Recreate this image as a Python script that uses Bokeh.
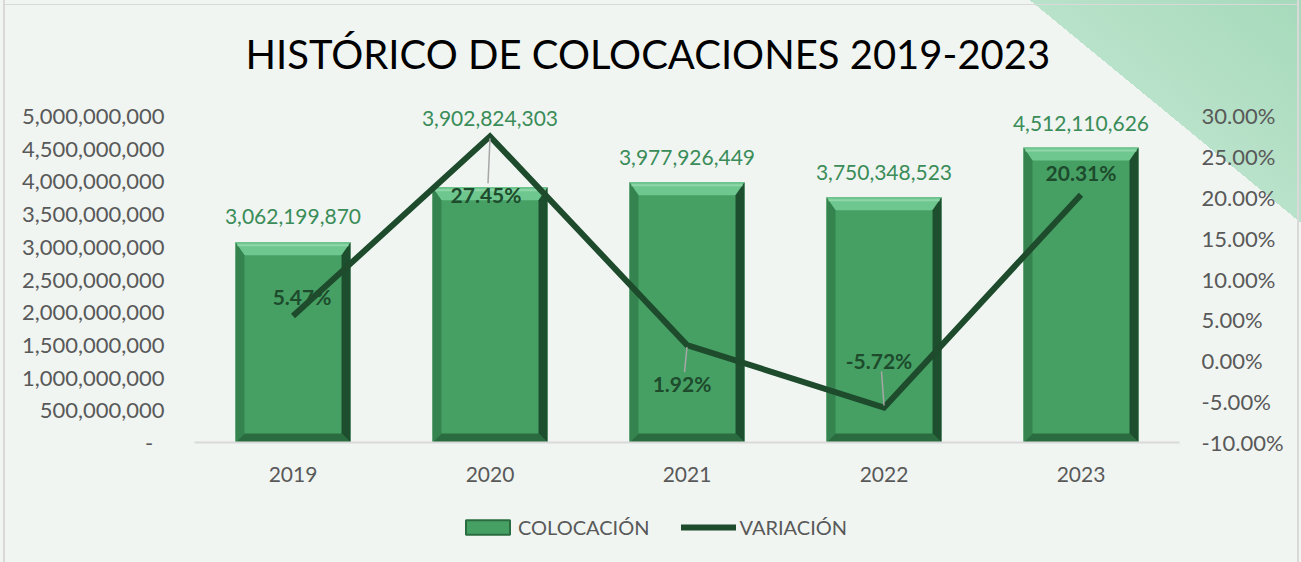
from bokeh.plotting import figure
from bokeh.layouts import column
from bokeh.models import (Range1d, LinearAxis, FixedTicker, CustomJSTickFormatter,
                          ColumnDataSource, LabelSet, Legend, LegendItem, Title)
from bokeh.core.properties import value
from bokeh.embed import file_html
from bokeh.resources import INLINE

# ---------------- data ----------------
years = ["2019", "2020", "2021", "2022", "2023"]
colocacion = [3062199870, 3902824303, 3977926449, 3750348523, 4512110626]
variacion = [0.0547, 0.2745, 0.0192, -0.0572, 0.2031]
left_ticks = [0, 500000000, 1000000000, 1500000000, 2000000000, 2500000000,
              3000000000, 3500000000, 4000000000, 4500000000, 5000000000]
right_ticks = [-0.10, -0.05, 0.0, 0.05, 0.10, 0.15, 0.20, 0.25, 0.30]
title_text = "HISTÓRICO DE COLOCACIONES 2019-2023"
series_names = ["COLOCACIÓN", "VARIACIÓN"]

# ---------------- style ----------------
W, H, HL = 1301, 490, 72          # main figure height, legend strip height
BL, BR, BT, BB = 194, 122, 99, 48
FW, FH = W - BL - BR, H - BT - BB
AXIS_PX = 327            # px spanned by the tick range (0..5e9 / -10%..30%)
YMAX = 5e9
PMIN, PMAX = -0.10, 0.30
Y_END = YMAX * FH / AXIS_PX
P_END = PMIN + (PMAX - PMIN) * FH / AXIS_PX
BG = "#f0f5f2"
EDGE = "#d9d9d9"
FONT = "Lato"
GREY = "#595959"
DARK = "#1d4b2c"
BAR = "#46a064"
VAL_GREEN = "#3a8c58"
bar_half = 0.292
val_dy = [26, 69, 25, 25, 24]          # px above bar top
pct_dx = [9, -4, -5, -5, 0]            # px
pct_dy = [20, -58, -38, 47, 22]        # px (positive = up)

n = len(years)
xs = list(range(n))
px_x = n / FW
px_y = Y_END / FH
px_p = (P_END - PMIN) / FH

edge = f"linear-gradient({EDGE},{EDGE})"
side_lines = f"{edge} 3px 0/2px 100% no-repeat, {edge} 1297px 0/2px 100% no-repeat"

p = figure(width=W, height=H, output_backend="svg", toolbar_location=None,
           x_range=Range1d(-0.5, n - 0.5), y_range=Range1d(0, Y_END),
           min_border_left=BL, min_border_right=BR, min_border_top=BT,
           min_border_bottom=BB, title=None)
p.extra_y_ranges = {"pct": Range1d(PMIN, P_END)}
p.background_fill_alpha = 0
p.border_fill_alpha = 0
p.outline_line_color = None
p.grid.visible = False
p.styles = {
    "background": (f"{side_lines}, {edge} 3px 4px/1296px 1px no-repeat, "
                   f"linear-gradient(39.4deg, {BG} 85.7%, #b9e2ca 85.7%, #a6dabb 100%)"),
}

# title
p.add_layout(Title(text=title_text, align="left", offset=51, standoff=44,
                   text_font=FONT, text_font_size="40px", text_font_style="normal",
                   text_color="#000000"), "above")

# axes
p.xaxis.ticker = FixedTicker(ticks=xs)
p.xaxis.major_label_overrides = {i: y for i, y in enumerate(years)}
p.xaxis.axis_line_color = EDGE
p.xaxis.axis_line_width = 2
p.xaxis.major_tick_line_color = None
p.xaxis.minor_tick_line_color = None
p.xaxis.major_label_text_font = FONT
p.xaxis.major_label_text_font_size = "21px"
p.xaxis.major_label_text_color = GREY
p.xaxis.major_label_standoff = 18

p.yaxis.ticker = FixedTicker(ticks=left_ticks)
p.yaxis.formatter = CustomJSTickFormatter(code="""
    if (tick == 0) { return "-\u00a0\u00a0"; }
    return Math.round(tick).toLocaleString('en-US');
""")
p.yaxis.axis_line_color = None
p.yaxis.major_tick_line_color = None
p.yaxis.minor_tick_line_color = None
p.yaxis.major_label_text_font = FONT
p.yaxis.major_label_text_font_size = "22px"
p.yaxis.major_label_text_color = GREY
p.yaxis.major_label_standoff = 24

ra = LinearAxis(y_range_name="pct", ticker=FixedTicker(ticks=right_ticks),
                formatter=CustomJSTickFormatter(code="return (tick*100).toFixed(2) + '%';"))
ra.axis_line_color = None
ra.major_tick_line_color = None
ra.minor_tick_line_color = None
ra.major_label_text_font = FONT
ra.major_label_text_font_size = "22px"
ra.major_label_text_color = GREY
ra.major_label_standoff = 16
p.add_layout(ra, "right")

# bars
src = ColumnDataSource(dict(x=xs, top=colocacion,
                            lab=[f"{v:,}" for v in colocacion],
                            dy=val_dy))
p.vbar(x="x", top="top", width=2 * bar_half, source=src,
       fill_color=BAR, line_color=None)

# bevel patches derived from bars
s = 9 * px_x
t = 13 * px_y
b = 9 * px_y
bx, by, bc = [], [], []
for i, v in zip(xs, colocacion):
    x0, x1 = i - bar_half, i + bar_half
    bx.append([x0, x1, x1 - s, x0 + s]); by.append([v, v, v - t, v - t]); bc.append("#6ec78e")
    bx.append([x0, x0, x0 + s, x0 + s]); by.append([0, v, v - t, b]); bc.append("#35844f")
    bx.append([x0, x1, x1 - s, x0 + s]); by.append([0, 0, b, b]); bc.append("#2a6c3f")
    bx.append([x1, x1, x1 - s, x1 - s]); by.append([v, 0, b, v - t]); bc.append("#1d4f2f")
p.patches(xs=bx, ys=by, fill_color=bc, line_color=None)
p.segment(x0=[i - bar_half + 2 * px_x for i in xs], x1=[i + bar_half - 2 * px_x for i in xs],
          y0=[v - 3 * px_y for v in colocacion], y1=[v - 3 * px_y for v in colocacion],
          line_color="#8fd6a8", line_width=2)

# line
lsrc = ColumnDataSource(dict(x=xs, y=variacion,
                             lab=[f"{v*100:.2f}%" for v in variacion],
                             dx=pct_dx, dy=pct_dy))
p.line(x="x", y="y", source=lsrc, y_range_name="pct", line_color=DARK,
       line_width=6, line_join="miter")

# leader lines
lx0, lx1, ly0, ly1 = [], [], [], []
for i, v, dx, dy in zip(xs, variacion, pct_dx, pct_dy):
    if abs(dy) > 30:
        sign = 1 if dy > 0 else -1
        lx0.append(i + dx * px_x * 0.5)
        ly0.append(v + (dy - sign * 11) * px_p)
        lx1.append(i)
        ly1.append(v + sign * 2 * px_p)
p.segment(x0=lx0, y0=ly0, x1=lx1, y1=ly1, y_range_name="pct",
          line_color="#a6a6a6", line_width=1.5)

# labels
p.add_layout(LabelSet(x="x", y="top", text="lab", source=src, y_offset="dy",
                      text_align="center", text_baseline="middle",
                      text_font=value(FONT), text_font_size=value("21px"),
                      text_color=VAL_GREEN))
p.add_layout(LabelSet(x="x", y="y", text="lab", source=lsrc, y_range_name="pct",
                      x_offset="dx", y_offset="dy",
                      text_align="center", text_baseline="middle",
                      text_font=value(FONT), text_font_size=value("21px"),
                      text_font_style="bold", text_color=DARK))

# ---------------- legend strip ----------------
lg = figure(width=W, height=HL, output_backend="svg", toolbar_location=None,
            x_range=Range1d(0, 1), y_range=Range1d(0, 1),
            x_axis_type=None, y_axis_type=None,
            min_border_left=BL, min_border_right=BR, min_border_top=0,
            min_border_bottom=0, title=None)
lg.background_fill_alpha = 0
lg.border_fill_alpha = 0
lg.outline_line_color = None
lg.grid.visible = False
lg.styles = {"background": f"{side_lines}, {BG}"}
nan = float("nan")
key_bar = ColumnDataSource(dict(x=[nan], top=[nan]))
key_line = ColumnDataSource(dict(x=[nan, nan], y=[nan, nan]))
lbar = lg.vbar(x="x", top="top", source=key_bar, width=0.5, fill_color=BAR,
               line_color="#2a6c3f", line_width=2)
lline = lg.line(x="x", y="y", source=key_line, line_color=DARK, line_width=6,
                line_cap="round")
legend = Legend(items=[LegendItem(label=series_names[0], renderers=[lbar]),
                       LegendItem(label=series_names[1], renderers=[lline])],
                orientation="horizontal", location=(460 - BL, 23),
                glyph_width=55, glyph_height=18, label_standoff=3, spacing=32,
                padding=0, margin=0, border_line_color=None,
                background_fill_alpha=0, label_text_font=FONT,
                label_text_font_size="20px", label_text_color=GREY)
lg.add_layout(legend, "center")

layout = column(p, lg, spacing=0)

open("out.html", "w").write(file_html(layout, INLINE))
